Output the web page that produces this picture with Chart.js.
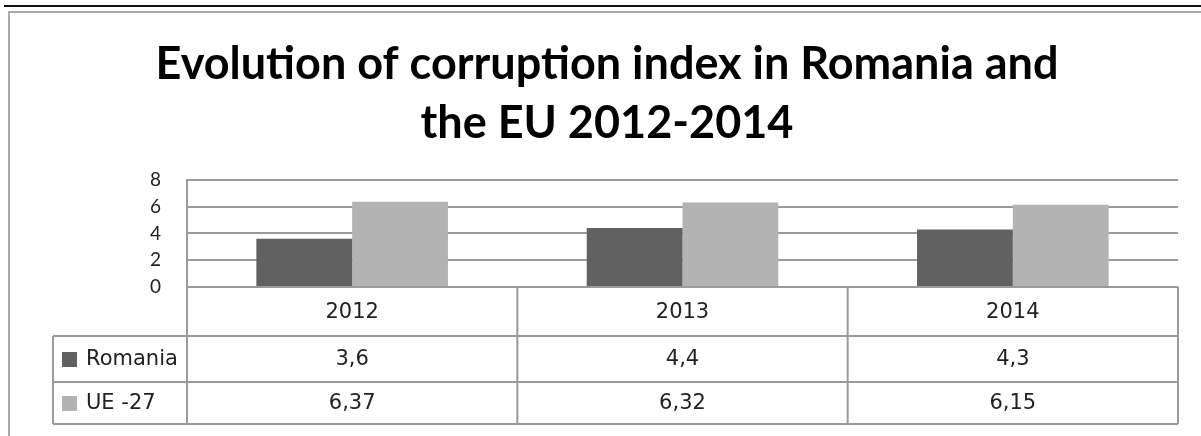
<!DOCTYPE html>
<html>
<head>
<meta charset="utf-8">
<script src="https://cdn.jsdelivr.net/npm/chart.js@4.4.1/dist/chart.umd.min.js"></script>
<style>
    html, body { margin: 0; padding: 0; background: #fff; }
    #wrap { width: 1201px; height: 436px; }
</style>
</head>
<body>
<div id="wrap"><canvas id="corruptionChart" width="1201" height="436"></canvas></div>
<script>
const titleLines = ["Evolution of corruption index in Romania and", "the EU 2012-2014"];
const years = ["2012", "2013", "2014"];
const seriesNames = ["Romania", "UE -27"];
const romania = [3.6, 4.4, 4.3];
const ue27 = [6.37, 6.32, 6.15];
const yTicks = [0, 2, 4, 6, 8];
const seriesColors = ["#616161", "#b3b3b3"];

const lineColor = "#9a9a9a";
const tableFont = "21px 'DejaVu Sans'";

// value with a decimal comma, like the original table
const fmt = v => String(v).replace(".", ",");

// outer frame of the sheet (black rule + grey border)
const framePlugin = {
    id: "frame",
    beforeDraw(chart) {
        const ctx = chart.ctx;
        ctx.save();
        ctx.fillStyle = "#fff";
        ctx.fillRect(0, 0, chart.width, chart.height);
        ctx.fillStyle = "#111";
        ctx.fillRect(4, 5, chart.width - 4, 2);
        ctx.fillStyle = "#a9a9a9";
        ctx.fillRect(8, 11, chart.width - 8, 2);
        ctx.fillRect(8, 11, 2, chart.height - 11);
        ctx.restore();
    }
};

// data table under the plot, placed from the x and y scales
const tablePlugin = {
    id: "dataTable",
    afterDraw(chart) {
        const ctx = chart.ctx;
        const x = chart.scales.x;
        const y = chart.scales.y;
        const area = chart.chartArea;
        const y0 = y.getPixelForValue(0);
        const rows = [y0, y0 + 49, y0 + 95, y0 + 137];
        const tableLeft = 53;
        const catW = (area.right - area.left) / years.length;

        ctx.save();
        ctx.strokeStyle = lineColor;
        ctx.lineWidth = 2;
        ctx.beginPath();
        // horizontal rules
        ctx.moveTo(area.left, rows[0]); ctx.lineTo(area.right, rows[0]);
        for (let r = 1; r < rows.length; r++) {
            ctx.moveTo(tableLeft, rows[r]); ctx.lineTo(area.right, rows[r]);
        }
        // vertical rules
        ctx.moveTo(tableLeft, rows[1]); ctx.lineTo(tableLeft, rows[3]);
        for (let i = 0; i <= years.length; i++) {
            const xx = area.left + i * catW;
            ctx.moveTo(xx, rows[0]); ctx.lineTo(xx, rows[3]);
        }
        ctx.stroke();

        ctx.fillStyle = "#222";
        ctx.font = tableFont;
        ctx.textAlign = "center";
        ctx.textBaseline = "middle";
        const series = [romania, ue27];
        years.forEach((yr, i) => {
            const cx = x.getPixelForValue(i);
            ctx.fillText(yr, cx, (rows[0] + rows[1]) / 2 + 1);
            series.forEach((s, k) => {
                ctx.fillText(fmt(s[i]), cx, (rows[k + 1] + rows[k + 2]) / 2 + 1);
            });
        });

        // legend keys in the first column
        ctx.textAlign = "left";
        seriesNames.forEach((name, k) => {
            const mid = (rows[k + 1] + rows[k + 2]) / 2;
            ctx.fillStyle = seriesColors[k];
            ctx.fillRect(62, mid - 7, 15, 15);
            ctx.fillStyle = "#222";
            ctx.fillText(name, 86, mid + 1);
        });
        ctx.restore();
    }
};

new Chart(document.getElementById("corruptionChart"), {
    type: "bar",
    data: {
        labels: years,
        datasets: [
            { label: seriesNames[0], data: romania, backgroundColor: seriesColors[0] },
            { label: seriesNames[1], data: ue27, backgroundColor: seriesColors[1] }
        ]
    },
    options: {
        responsive: false,
        animation: false,
        // left padding keeps the title centred on the sheet frame
        layout: { padding: { left: 36, right: 23, top: 0, bottom: 149 } },
        datasets: { bar: { categoryPercentage: 0.58, barPercentage: 1.0, borderWidth: 0 } },
        plugins: {
            legend: { display: false },
            tooltip: { enabled: false },
            title: {
                display: true,
                text: titleLines,
                color: "#000",
                font: { family: "Lato", size: 45, weight: "bold", lineHeight: 1.31 },
                padding: { top: 35, bottom: 27 }
            }
        },
        scales: {
            x: { display: false },
            y: {
                min: 0,
                max: 8,
                afterFit: s => { s.width = 151; },
                afterBuildTicks: s => { s.ticks = yTicks.map(v => ({ value: v })); },
                grid: { color: lineColor, lineWidth: 2, drawTicks: false },
                border: { display: true, color: lineColor, width: 2 },
                ticks: { color: "#222", padding: 26, font: { family: "Lato", size: 19 } }
            }
        }
    },
    plugins: [framePlugin, tablePlugin]
});
</script>
</body>
</html>
